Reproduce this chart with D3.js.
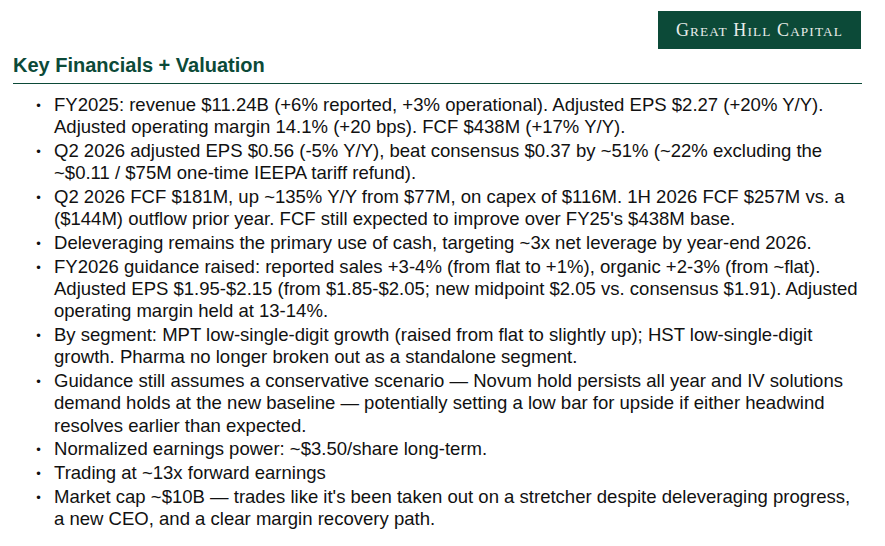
<!DOCTYPE html>
<html>
<head>
<meta charset="utf-8">
<script src="https://cdn.jsdelivr.net/npm/d3@7"></script>
<style>
  html, body { margin: 0; padding: 0; background: #fff; }
  svg { display: block; }
</style>
</head>
<body>
<svg id="slide"></svg>
<script>
(function() {
    'use strict';

    // Slide content
    const title = 'Key Financials + Valuation';

    // Logo words: first letter large, rest small caps
    const logoWords = ['Great', 'Hill', 'Capital'];

    // Bullets, one array of wrapped lines per bullet (wraps as in the source)
    const bullets = [
        ['FY2025: revenue $11.24B (+6% reported, +3% operational). Adjusted EPS $2.27 (+20% Y/Y).',
         'Adjusted operating margin 14.1% (+20 bps). FCF $438M (+17% Y/Y).'],
        ['Q2 2026 adjusted EPS $0.56 (-5% Y/Y), beat consensus $0.37 by ~51% (~22% excluding the',
         '~$0.11 / $75M one-time IEEPA tariff refund).'],
        ['Q2 2026 FCF $181M, up ~135% Y/Y from $77M, on capex of $116M. 1H 2026 FCF $257M vs. a',
         '($144M) outflow prior year. FCF still expected to improve over FY25\'s $438M base.'],
        ['Deleveraging remains the primary use of cash, targeting ~3x net leverage by year-end 2026.'],
        ['FY2026 guidance raised: reported sales +3-4% (from flat to +1%), organic +2-3% (from ~flat).',
         'Adjusted EPS $1.95-$2.15 (from $1.85-$2.05; new midpoint $2.05 vs. consensus $1.91). Adjusted',
         'operating margin held at 13-14%.'],
        ['By segment: MPT low-single-digit growth (raised from flat to slightly up); HST low-single-digit',
         'growth. Pharma no longer broken out as a standalone segment.'],
        ['Guidance still assumes a conservative scenario \u2014 Novum hold persists all year and IV solutions',
         'demand holds at the new baseline \u2014 potentially setting a low bar for upside if either headwind',
         'resolves earlier than expected.'],
        ['Normalized earnings power: ~$3.50/share long-term.'],
        ['Trading at ~13x forward earnings'],
        ['Market cap ~$10B \u2014 trades like it\'s been taken out on a stretcher despite deleveraging progress,',
         'a new CEO, and a clear margin recovery path.']
    ];

    const width = 885;
    const height = 546;
    const green = '#0c4a38';
    const sans = '"Liberation Sans", Arial, Helvetica, sans-serif';

    const svg = d3.select('#slide')
        .attr('width', width)
        .attr('height', height);

    svg.append('rect')
        .attr('width', width)
        .attr('height', height)
        .attr('fill', '#fff');

    // Logo box
    const logo = svg.append('g').attr('transform', 'translate(658, 11)');
    logo.append('rect')
        .attr('width', 203)
        .attr('height', 38)
        .attr('fill', green);

    const logoText = logo.append('text')
        .attr('x', 101.5)
        .attr('y', 24.5)
        .attr('text-anchor', 'middle')
        .attr('fill', '#e8ece9')
        .style('font-family', '"Liberation Serif", "Times New Roman", serif')
        .style('letter-spacing', '1.1px');

    logoWords.forEach((w, i) => {
        logoText.append('tspan')
            .style('font-size', '18px')
            .text((i > 0 ? ' ' : '') + w.charAt(0).toUpperCase());
        logoText.append('tspan')
            .style('font-size', '13.3px')
            .text(w.slice(1).toUpperCase());
    });

    // Title + rule
    svg.append('text')
        .attr('x', 13)
        .attr('y', 72)
        .attr('fill', green)
        .style('font-family', sans)
        .style('font-size', '20px')
        .style('font-weight', 'bold')
        .text(title);

    svg.append('line')
        .attr('x1', 13)
        .attr('x2', 862)
        .attr('y1', 83.5)
        .attr('y2', 83.5)
        .attr('stroke', green)
        .attr('stroke-width', 1.2);

    // Bullet list
    const lineStep = 22.2;
    const paraGap = 1.7;
    let y = 110.5;

    const list = svg.append('g')
        .style('font-family', sans)
        .attr('fill', '#111');

    bullets.forEach(lines => {
        list.append('text')
            .attr('x', 38.5)
            .attr('y', y - 1)
            .attr('text-anchor', 'middle')
            .style('font-size', '13px')
            .text('\u2022');

        lines.forEach((line, j) => {
            list.append('text')
                .attr('x', 54)
                .attr('y', y + j * lineStep)
                .style('font-size', '18.55px')
                .text(line);
        });

        y += lines.length * lineStep + paraGap;
    });
})();
</script>
</body>
</html>
